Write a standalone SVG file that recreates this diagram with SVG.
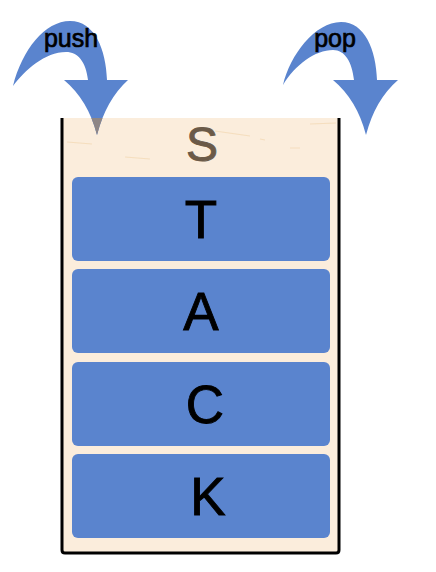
<svg xmlns="http://www.w3.org/2000/svg" width="436" height="572" viewBox="0 0 436 572">
<style>
.box{fill:#5A84CE}
.letter{font-family:"Liberation Sans",Arial,sans-serif;font-size:53px;fill:#000;stroke:#000;stroke-width:0.9;text-anchor:middle}
.lbl{font-family:"Liberation Sans",Arial,sans-serif;font-size:25px;fill:#000;stroke:#000;stroke-width:0.7;text-anchor:middle}
.arrow{fill:#5A84CE}
.grain{stroke:#EFCF9F;stroke-width:1.2;fill:none;opacity:0.5}
</style>
<defs>
<clipPath id="inside"><rect x="62" y="118" width="277" height="435"/></clipPath>
</defs>
<rect width="436" height="572" fill="#fff"/>
<g id="stack">
<path d="M62,118 L62,550 Q62,553 65,553 L336,553 Q339,553 339,550 L339,118 Z" fill="#FBEDDC"/>
<path class="grain" d="M67,142 L92,144 M125,157 L150,159 M215,131 L250,136 M260,139 L265,140 M310,124 L336,123 M290,148 L300,148"/>
<path d="M62,118 L62,550 Q62,553 65,553 L336,553 Q339,553 339,550 L339,118" fill="none" stroke="#000" stroke-width="3"/>
<text x="202" y="161" class="letter" style="font-size:48px;fill:#6B5A48;stroke:#6B5A48">S</text>
</g>
<g id="node-T"><rect class="box" x="72" y="177" width="258" height="84" rx="6"/><text class="letter" x="201" y="238">T</text></g>
<g id="node-A"><rect class="box" x="72" y="269" width="258" height="84" rx="6"/><text class="letter" x="201" y="330">A</text></g>
<g id="node-C"><rect class="box" x="72" y="362" width="258" height="84" rx="6"/><text class="letter" x="205" y="423">C</text></g>
<g id="node-K"><rect class="box" x="72" y="454" width="258" height="84" rx="6"/><text class="letter" x="208" y="515">K</text></g>
<g id="connectors">
<path id="push-arrow" class="arrow" d="M13,86 C22,50 45,21 70,21 C95,21 106,50 107,80 L128,80 Q106,100 97,135 Q88,100 64,80 L88,80 C86,62 78,52 66,52 C45,52 25,70 13,86 Z"/>
<path fill="#8E8686" clip-path="url(#inside)" d="M13,86 C22,50 45,21 70,21 C95,21 106,50 107,80 L128,80 Q106,100 97,135 Q88,100 64,80 L88,80 C86,62 78,52 66,52 C45,52 25,70 13,86 Z"/>
<path id="pop-arrow" class="arrow" d="M283,85 C290,55 315,22 341,22 C365,22 376,50 377,80 L398,80 Q375,100 366,135 Q357,100 333,80 L354,80 C352,62 345,50 333,50 C315,50 295,65 283,85 Z"/>
<text class="lbl" x="71" y="47">push</text>
<text class="lbl" x="335" y="47">pop</text>
</g>
</svg>
